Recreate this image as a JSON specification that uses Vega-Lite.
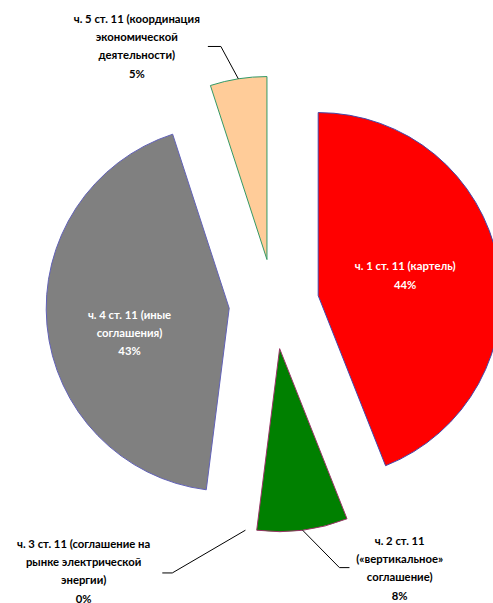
{
  "$schema": "https://vega.github.io/schema/vega-lite/v6.json",
  "width": 493,
  "height": 603,
  "padding": 0,
  "autosize": {"type": "none"},
  "background": "white",
  "config": {
    "view": {"stroke": null},
    "text": {"font": "Lato", "fontWeight": "bold", "fontSize": 11.3, "lineHeight": 18.3, "lineBreak": "\n", "baseline": "middle", "align": "center"}
  },
  "data": {
    "values": [
      {"part": 1, "label": "ч. 1 ст. 11 (картель)", "share": 44},
      {"part": 2, "label": "ч. 2 ст. 11\n(«вертикальное»\nсоглашение)", "share": 8},
      {"part": 3, "label": "ч. 3 ст. 11 (соглашение на\nрынке электрической\nэнергии)", "share": 0},
      {"part": 4, "label": "ч. 4 ст. 11 (иные\nсоглашения)", "share": 43},
      {"part": 5, "label": "ч. 5 ст. 11 (координация\nэкономической\nдеятельности)", "share": 5}
    ]
  },
  "transform": [
    {"joinaggregate": [{"op": "sum", "field": "share", "as": "total"}]},
    {"window": [{"op": "sum", "field": "share", "as": "cum"}], "sort": [{"field": "part"}], "frame": [null, 0]},
    {"calculate": "datum.cum / datum.total * 100", "as": "endPct"},
    {"calculate": "(datum.cum - datum.share) / datum.total * 100", "as": "startPct"},
    {"calculate": "(datum.startPct + datum.endPct) / 2", "as": "midPct"},
    {"calculate": "datum.midPct / 100 * 2 * PI", "as": "mid"},
    {"calculate": "45 * sin(datum.mid)", "as": "ox"},
    {"calculate": "45 * cos(datum.mid)", "as": "oy"},
    {"calculate": "datum.label + '\\n' + datum.share + '%'", "as": "text"}
  ],
  "encoding": {
    "x": {"field": "ox", "type": "quantitative", "stack": false, "scale": {"domain": [-274, 219], "nice": false, "zero": false}, "axis": null},
    "y": {"field": "oy", "type": "quantitative", "stack": false, "scale": {"domain": [-299, 304], "nice": false, "zero": false}, "axis": null}
  },
  "layer": [
    {
      "transform": [{"filter": "datum.share > 0"}],
      "mark": {"type": "arc", "radius": 183, "strokeWidth": 1},
      "encoding": {
        "theta": {"field": "startPct", "type": "quantitative", "scale": {"domain": [0, 100], "nice": false, "zero": true}},
        "theta2": {"field": "endPct"},
        "color": {"field": "part", "type": "nominal", "scale": {"domain": [1, 2, 3, 4, 5], "range": ["#FF0000", "#008000", "#4F81BD", "#808080", "#FFCC99"]}, "legend": null},
        "stroke": {"field": "part", "type": "nominal", "scale": {"domain": [1, 2, 3, 4, 5], "range": ["#4646A8", "#993366", "#000000", "#6262B8", "#339966"]}, "legend": null}
      }
    },
    {
      "transform": [{"filter": "datum.part == 1"}],
      "mark": {"type": "text", "color": "white", "radius": 89, "thetaOffset": -0.026, "dy": -9.15},
      "encoding": {
        "theta": {"field": "midPct", "type": "quantitative", "scale": {"domain": [0, 100], "nice": false, "zero": true}},
        "text": {"field": "text"}
      }
    },
    {
      "transform": [{"filter": "datum.part == 4"}],
      "mark": {"type": "text", "color": "white", "radius": 103, "thetaOffset": -0.16, "dy": -18.3},
      "encoding": {
        "theta": {"field": "midPct", "type": "quantitative", "scale": {"domain": [0, 100], "nice": false, "zero": true}},
        "text": {"field": "text"}
      }
    },
    {
      "transform": [
        {"filter": "datum.part == 5"},
        {"calculate": "datum.ox + 183 * sin(datum.mid)", "as": "sx"},
        {"calculate": "datum.oy + 183 * cos(datum.mid)", "as": "sy"},
        {"calculate": "datum.ox + 218 * sin(datum.mid - 0.056)", "as": "ex"},
        {"calculate": "datum.oy + 218 * cos(datum.mid - 0.056)", "as": "ey"},
        {"calculate": "datum.ex - 13", "as": "tx"}
      ],
      "layer": [
        {
          "mark": {"type": "rule", "color": "black", "strokeWidth": 1},
          "encoding": {
            "x": {"field": "sx", "type": "quantitative", "scale": {"domain": [-274, 219], "nice": false, "zero": false}, "axis": null},
            "y": {"field": "sy", "type": "quantitative", "scale": {"domain": [-299, 304], "nice": false, "zero": false}, "axis": null},
            "x2": {"field": "ex"},
            "y2": {"field": "ey"}
          }
        },
        {
          "mark": {"type": "rule", "color": "black", "strokeWidth": 1},
          "encoding": {
            "x": {"field": "ex", "type": "quantitative", "scale": {"domain": [-274, 219], "nice": false, "zero": false}, "axis": null},
            "y": {"field": "ey", "type": "quantitative", "scale": {"domain": [-299, 304], "nice": false, "zero": false}, "axis": null},
            "x2": {"field": "tx"}
          }
        },
        {
          "mark": {"type": "text", "color": "black", "radius": 249, "thetaOffset": -0.393, "dy": -27.45},
          "encoding": {
            "theta": {"field": "midPct", "type": "quantitative", "scale": {"domain": [0, 100], "nice": false, "zero": true}},
            "text": {"field": "text"}
          }
        }
      ]
    },
    {
      "transform": [
        {"filter": "datum.part == 2"},
        {"calculate": "datum.ox + 183 * sin(datum.mid)", "as": "sx"},
        {"calculate": "datum.oy + 183 * cos(datum.mid)", "as": "sy"},
        {"calculate": "datum.ox + 227 * sin(datum.mid - 0.141)", "as": "ex"},
        {"calculate": "datum.oy + 227 * cos(datum.mid - 0.141)", "as": "ey"},
        {"calculate": "datum.ex + 10", "as": "tx"}
      ],
      "layer": [
        {
          "mark": {"type": "rule", "color": "black", "strokeWidth": 1},
          "encoding": {
            "x": {"field": "sx", "type": "quantitative", "scale": {"domain": [-274, 219], "nice": false, "zero": false}, "axis": null},
            "y": {"field": "sy", "type": "quantitative", "scale": {"domain": [-299, 304], "nice": false, "zero": false}, "axis": null},
            "x2": {"field": "ex"},
            "y2": {"field": "ey"}
          }
        },
        {
          "mark": {"type": "rule", "color": "black", "strokeWidth": 1},
          "encoding": {
            "x": {"field": "ex", "type": "quantitative", "scale": {"domain": [-274, 219], "nice": false, "zero": false}, "axis": null},
            "y": {"field": "ey", "type": "quantitative", "scale": {"domain": [-299, 304], "nice": false, "zero": false}, "axis": null},
            "x2": {"field": "tx"}
          }
        },
        {
          "mark": {"type": "text", "color": "black", "radius": 251, "thetaOffset": -0.373, "dy": -27.45},
          "encoding": {
            "theta": {"field": "midPct", "type": "quantitative", "scale": {"domain": [0, 100], "nice": false, "zero": true}},
            "text": {"field": "text"}
          }
        }
      ]
    },
    {
      "transform": [
        {"filter": "datum.part == 3"},
        {"calculate": "datum.ox + 183 * sin(datum.mid)", "as": "sx"},
        {"calculate": "datum.oy + 183 * cos(datum.mid)", "as": "sy"},
        {"calculate": "datum.ox + 244 * sin(datum.mid + 0.279)", "as": "ex"},
        {"calculate": "datum.oy + 244 * cos(datum.mid + 0.279)", "as": "ey"},
        {"calculate": "datum.ex - 10", "as": "tx"}
      ],
      "layer": [
        {
          "mark": {"type": "rule", "color": "black", "strokeWidth": 1},
          "encoding": {
            "x": {"field": "sx", "type": "quantitative", "scale": {"domain": [-274, 219], "nice": false, "zero": false}, "axis": null},
            "y": {"field": "sy", "type": "quantitative", "scale": {"domain": [-299, 304], "nice": false, "zero": false}, "axis": null},
            "x2": {"field": "ex"},
            "y2": {"field": "ey"}
          }
        },
        {
          "mark": {"type": "rule", "color": "black", "strokeWidth": 1},
          "encoding": {
            "x": {"field": "ex", "type": "quantitative", "scale": {"domain": [-274, 219], "nice": false, "zero": false}, "axis": null},
            "y": {"field": "ey", "type": "quantitative", "scale": {"domain": [-299, 304], "nice": false, "zero": false}, "axis": null},
            "x2": {"field": "tx"}
          }
        },
        {
          "mark": {"type": "text", "color": "black", "radius": 290, "thetaOffset": 0.565, "dy": -27.45},
          "encoding": {
            "theta": {"field": "midPct", "type": "quantitative", "scale": {"domain": [0, 100], "nice": false, "zero": true}},
            "text": {"field": "text"}
          }
        }
      ]
    }
  ]
}
